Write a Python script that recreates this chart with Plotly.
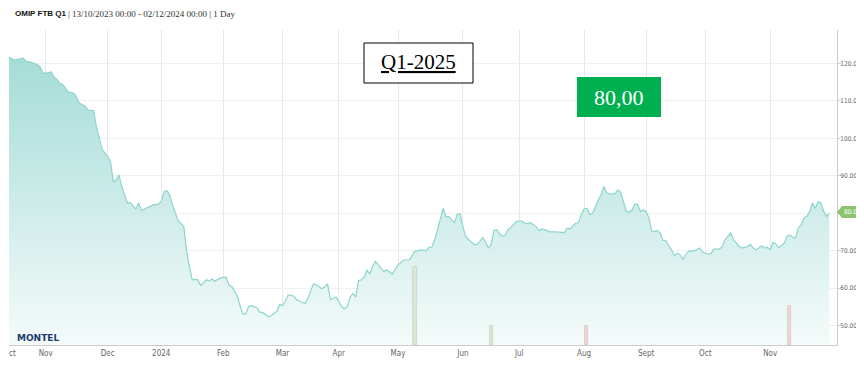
import plotly.graph_objects as go

# ---------------- data ----------------
dates = [
    "2023-10-13", "2023-10-17", "2023-10-18", "2023-10-20", "2023-10-23", "2023-10-25", "2023-10-27",
    "2023-10-30", "2023-10-31", "2023-11-01", "2023-11-03", "2023-11-06", "2023-11-07", "2023-11-08",
    "2023-11-09", "2023-11-13", "2023-11-15", "2023-11-16", "2023-11-17", "2023-11-21", "2023-11-22",
    "2023-11-24", "2023-11-27", "2023-11-28", "2023-11-29", "2023-12-01", "2023-12-04", "2023-12-05",
    "2023-12-06", "2023-12-07", "2023-12-08", "2023-12-12", "2023-12-13", "2023-12-15", "2023-12-18",
    "2023-12-19", "2023-12-21", "2023-12-22", "2023-12-27", "2023-12-29", "2024-01-02", "2024-01-03",
    "2024-01-04", "2024-01-05", "2024-01-08", "2024-01-09", "2024-01-10", "2024-01-12", "2024-01-15",
    "2024-01-16", "2024-01-17", "2024-01-18", "2024-01-19", "2024-01-22", "2024-01-23", "2024-01-24",
    "2024-01-25", "2024-01-26", "2024-01-29", "2024-01-31", "2024-02-02", "2024-02-05", "2024-02-06",
    "2024-02-08", "2024-02-09", "2024-02-12", "2024-02-13", "2024-02-14", "2024-02-15", "2024-02-19",
    "2024-02-20", "2024-02-21", "2024-02-22", "2024-02-23", "2024-02-26", "2024-02-28", "2024-02-29",
    "2024-03-01", "2024-03-04", "2024-03-05", "2024-03-07", "2024-03-08", "2024-03-12", "2024-03-13",
    "2024-03-14", "2024-03-18", "2024-03-19", "2024-03-21", "2024-03-22", "2024-03-25", "2024-03-26",
    "2024-03-28", "2024-04-03", "2024-04-04", "2024-04-05", "2024-04-08", "2024-04-09", "2024-04-10",
    "2024-04-11", "2024-04-12", "2024-04-15", "2024-04-16", "2024-04-17", "2024-04-18", "2024-04-19",
    "2024-04-23", "2024-04-24", "2024-04-25", "2024-04-29", "2024-04-30", "2024-05-01", "2024-05-03",
    "2024-05-06", "2024-05-07", "2024-05-09", "2024-05-10", "2024-05-13", "2024-05-15", "2024-05-16",
    "2024-05-17", "2024-05-20", "2024-05-21", "2024-05-22", "2024-05-23", "2024-05-24", "2024-05-27",
    "2024-05-28", "2024-05-29", "2024-05-30", "2024-05-31", "2024-06-03", "2024-06-04", "2024-06-05",
    "2024-06-06", "2024-06-07", "2024-06-10", "2024-06-11", "2024-06-12", "2024-06-13", "2024-06-14",
    "2024-06-17", "2024-06-18", "2024-06-19", "2024-06-20", "2024-06-21", "2024-06-24", "2024-06-25",
    "2024-06-26", "2024-06-27", "2024-06-28", "2024-07-01", "2024-07-02", "2024-07-03", "2024-07-04",
    "2024-07-05", "2024-07-08", "2024-07-09", "2024-07-10", "2024-07-11", "2024-07-12", "2024-07-16",
    "2024-07-18", "2024-07-22", "2024-07-23", "2024-07-24", "2024-07-25", "2024-07-29", "2024-07-30",
    "2024-07-31", "2024-08-01", "2024-08-02", "2024-08-05", "2024-08-06", "2024-08-07", "2024-08-08",
    "2024-08-09", "2024-08-12", "2024-08-13", "2024-08-14", "2024-08-15", "2024-08-16", "2024-08-19",
    "2024-08-20", "2024-08-21", "2024-08-22", "2024-08-23", "2024-08-26", "2024-08-27", "2024-08-28",
    "2024-08-29", "2024-08-30", "2024-09-02", "2024-09-03", "2024-09-04", "2024-09-05", "2024-09-06",
    "2024-09-09", "2024-09-10", "2024-09-11", "2024-09-12", "2024-09-13", "2024-09-16", "2024-09-17",
    "2024-09-18", "2024-09-19", "2024-09-20", "2024-09-23", "2024-09-24", "2024-09-25", "2024-09-26",
    "2024-09-27", "2024-09-30", "2024-10-01", "2024-10-02", "2024-10-03", "2024-10-04", "2024-10-08",
    "2024-10-09", "2024-10-10", "2024-10-11", "2024-10-14", "2024-10-15", "2024-10-16", "2024-10-17",
    "2024-10-18", "2024-10-21", "2024-10-22", "2024-10-23", "2024-10-24", "2024-10-25", "2024-10-28",
    "2024-10-29", "2024-10-30", "2024-10-31", "2024-11-01", "2024-11-04", "2024-11-05", "2024-11-06",
    "2024-11-07", "2024-11-08", "2024-11-11", "2024-11-12", "2024-11-13", "2024-11-14", "2024-11-15",
    "2024-11-18", "2024-11-19", "2024-11-20", "2024-11-21", "2024-11-22", "2024-11-25", "2024-11-26",
    "2024-11-27", "2024-11-28", "2024-11-29", "2024-12-02",
]
prices = [
    121.6, 120.9, 121.1, 121.4, 120.6, 120.3, 119.7,
    119.1, 117.5, 117.3, 117.7, 116.3, 115.7, 114.7,
    114.4, 112.4, 112.0, 110.9, 109.3, 108.6, 107.5,
    107.4, 103.1, 100.0, 97.1, 95.1, 93.8, 88.4,
    88.9, 90.2, 87.1, 82.7, 82.8, 81.1, 82.7,
    80.7, 81.3, 81.8, 82.2, 82.4, 83.1, 85.8,
    86.0, 84.9, 82.2, 80.0, 78.0, 76.4, 69.8,
    65.8, 62.2, 62.3, 62.2, 60.6, 61.3, 62.2,
    61.9, 62.4, 61.8, 62.7, 62.9, 60.8, 60.4,
    57.8, 55.1, 53.1, 53.1, 55.1, 55.3, 54.7,
    53.5, 53.5, 52.9, 52.3, 52.6, 53.8, 55.6,
    55.3, 56.4, 58.2, 57.9, 56.9, 56.2, 55.9,
    57.3, 61.1, 60.9, 59.8, 60.4, 61.1, 56.9,
    57.6, 55.1, 54.4, 55.1, 57.6, 58.5, 57.6,
    62.0, 62.2, 62.9, 64.9, 63.7, 65.9, 67.1,
    65.3, 64.4, 64.9, 63.7, 65.1, 66.2, 67.5,
    67.5, 67.5, 69.8, 70.0, 70.2, 70.0, 70.9,
    70.9, 72.9, 75.6, 78.2, 81.3, 79.1, 79.1,
    78.2, 77.5, 79.7, 79.8, 76.4, 73.8, 73.0,
    72.2, 71.6, 71.6, 72.4, 73.5, 72.4, 70.7,
    71.6, 75.3, 75.6, 74.5, 73.9, 74.1, 75.6,
    76.2, 76.9, 77.8, 77.9, 77.8, 77.3, 77.2,
    77.5, 77.0, 76.4, 75.3, 75.8, 75.6, 75.0,
    75.0, 75.0, 74.8, 76.0, 75.8, 77.3, 77.5,
    79.6, 81.1, 81.3, 79.7, 79.9, 81.8, 83.5,
    84.9, 87.1, 85.5, 85.1, 85.1, 85.2, 86.2,
    85.5, 82.9, 80.4, 80.3, 80.9, 82.4, 82.4,
    80.4, 80.9, 80.4, 78.7, 75.3, 75.1, 75.4,
    74.7, 72.7, 72.7, 71.3, 70.2, 68.6, 69.3,
    68.9, 67.7, 68.9, 69.8, 69.8, 70.0, 70.2,
    70.7, 69.6, 69.3, 69.1, 69.2, 70.4, 70.4,
    71.1, 72.9, 73.8, 74.7, 72.9, 72.0, 71.1,
    70.7, 70.9, 71.1, 71.7, 70.7, 70.2, 70.8,
    71.3, 70.7, 70.9, 70.2, 72.2, 71.8, 70.8,
    71.3, 72.0, 73.8, 74.2, 73.6, 73.3, 76.0,
    76.9, 78.7, 79.1, 80.4, 82.7, 81.3, 83.1,
    82.7, 80.4, 79.1, 80.0,
]

volume_dates = ["2024-05-09", "2024-06-17", "2024-08-02", "2024-11-12"]
volumes = [4, 1, 1, 2]
volume_colors = ["#dbe6d5", "#dbe6d5", "#ecd9d5", "#ecd9d5"]
volume_edges = ["#c6d6bf", "#c6d6bf", "#dcc3bd", "#dcc3bd"]

holidays = ["2023-12-25", "2023-12-26", "2024-01-01", "2024-03-29", "2024-04-01"]

month_ticks = ["2023-11-01", "2023-12-01", "2024-01-02", "2024-02-01", "2024-03-01", "2024-04-02",
               "2024-05-01", "2024-06-03", "2024-07-01", "2024-08-01", "2024-09-02", "2024-10-01",
               "2024-11-01"]
month_labels = ["Nov", "Dec", "2024", "Feb", "Mar", "Apr", "May", "Jun", "Jul", "Aug", "Sept",
                "Oct", "Nov"]

y_ticks = [50, 60, 70, 80, 90, 100, 110, 120]
last_value = 80.0   # shown in the green tag, which covers the axis label at that level

title_main = "OMIP FTB Q1"
title_rest = "| 13/10/2023 00:00 - 02/12/2024 00:00 | 1 Day"
contract_label = "Q1-2025"
price_label = "80,00"

# ---------------- layout geometry ----------------
# The page body keeps its default 8px margin, so the figure is drawn 8px in from the
# top-left corner of the 864x368 window; the height also leaves the 8px bottom margin so
# that the page does not scroll. All target positions below are window pixels.
OFF = 8
W, H = 864 - OFF, 368 - 2 * OFF
L, R, T, B = 9 - OFF, 837 - OFF, 30 - OFF, 345 - OFF
PW, PH = R - L, B - T

NARROW = "Liberation Sans Narrow, Arial Narrow, DejaVu Sans Condensed, Liberation Sans, Arial"


def px(x, y):
    """window pixel -> paper coordinates"""
    return (x - OFF - L) / PW, (B - (y - OFF)) / PH


y_ticktext = ["" if v == last_value else f"{v:.2f}" for v in y_ticks]

fig = go.Figure()

fig.add_trace(go.Scatter(
    x=dates, y=prices, mode="lines",
    line=dict(color="#8dd5cd", width=1.2),
    fill="tozeroy",
    fillgradient=dict(type="vertical", start=44.8, stop=128.9,
                      colorscale=[[0, "rgb(244,251,250)"], [1, "rgb(158,217,212)"]]),
    hoverinfo="skip",
))

fig.add_trace(go.Bar(
    x=volume_dates, y=volumes, yaxis="y2",
    width=86400000 * 1.1,
    marker=dict(color=volume_colors, line=dict(color=volume_edges, width=0.8)),
    hoverinfo="skip",
))

shapes = []
x0, y0 = px(364, 83)
x1, y1 = px(473, 43)
shapes.append(dict(type="rect", xref="paper", yref="paper", x0=x0, y0=y0, x1=x1, y1=y1,
                   line=dict(color="black", width=1), fillcolor="white", layer="above"))
x0, y0 = px(577, 117)
x1, y1 = px(661, 77)
shapes.append(dict(type="rect", xref="paper", yref="paper", x0=x0, y0=y0, x1=x1, y1=y1,
                   line=dict(width=0), fillcolor="#00b050", layer="above"))
pts = [px(837, 212), px(842, 206), px(862, 206), px(862, 218), px(842, 218)]
path = "M " + " L ".join(f"{a},{b}" for a, b in pts) + " Z"
shapes.append(dict(type="path", xref="paper", yref="paper", path=path,
                   line=dict(width=0), fillcolor="#8cc46e", layer="above"))

annotations = []


def note(x, y, text, size, color, family, xanchor="center", yanchor="middle"):
    ax, ay = px(x, y)
    annotations.append(dict(x=ax, y=ay, xref="paper", yref="paper", text=text, showarrow=False,
                            xanchor=xanchor, yanchor=yanchor,
                            font=dict(size=size, color=color, family=family)))


note(13, 14, f"<b>{title_main}</b>", 8, "#111", "Liberation Sans, Arial", xanchor="left")
note(66, 14, title_rest, 9, "#333", "Liberation Serif, Georgia, serif", xanchor="left")
note(418.5, 62, f"<u>{contract_label}</u>", 21, "black", "Liberation Serif, Times New Roman, serif")
note(619, 97, price_label, 22, "white", "Liberation Serif, Times New Roman, serif")
note(852, 212, f"{last_value:.2f}", 6.5, "white", NARROW)
note(15, 338, "<b>MONTEL</b>", 9, "#1d3c6e", "DejaVu Sans, Arial", xanchor="left")
note(7, 353, "ct", 8, "#666", NARROW, xanchor="left")

fig.update_layout(
    width=W, height=H,
    margin=dict(l=L, r=W - R, t=T, b=H - B, pad=0),
    paper_bgcolor="white", plot_bgcolor="white",
    showlegend=False,
    shapes=shapes, annotations=annotations,
    bargap=0,
    xaxis=dict(
        type="date",
        range=["2023-10-13", "2024-12-04 17:00"],
        rangebreaks=[dict(bounds=["sat", "mon"]), dict(values=holidays)],
        tickvals=month_ticks, ticktext=month_labels,
        showgrid=True, gridcolor="#e8e8e8", gridwidth=1,
        showline=True, linecolor="#cccccc", linewidth=1,
        ticks="", zeroline=False, automargin=False,
        tickfont=dict(size=8, color="#666", family=NARROW),
    ),
    yaxis=dict(
        side="right", range=[44.8, 128.9],
        tickvals=y_ticks, ticktext=y_ticktext,
        showgrid=True, gridcolor="#f0f0f0", gridwidth=1,
        showline=True, linecolor="#c8c8c8", linewidth=1,
        ticks="outside", ticklen=3, tickcolor="#d0d0d0",
        ticklabelstandoff=-2,
        zeroline=False, automargin=False,
        tickfont=dict(size=6.5, color="#666", family=NARROW),
    ),
    yaxis2=dict(overlaying="y", range=[0, 16.15], visible=False, fixedrange=True),
)

fig.write_html("out.html")
